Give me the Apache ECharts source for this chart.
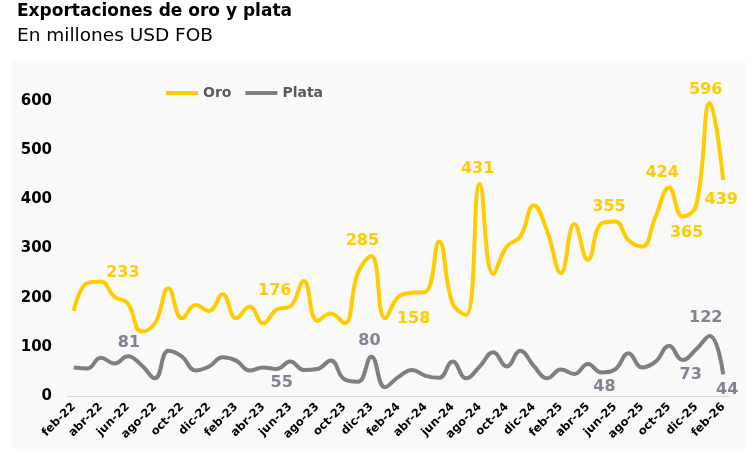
<!DOCTYPE html>
<html>
<head>
<meta charset="utf-8">
<script src="https://cdn.jsdelivr.net/npm/echarts@6/dist/echarts.min.js"></script>
<style>
html,body{margin:0;padding:0;background:#fff;}
#c{width:751px;height:449px;}
</style>
</head>
<body>
<div id="c"></div>
<script>
const categories = ['feb-22','mar-22','abr-22','may-22','jun-22','jul-22','ago-22','sep-22','oct-22','nov-22','dic-22','ene-23',
'feb-23','mar-23','abr-23','may-23','jun-23','jul-23','ago-23','sep-23','oct-23','nov-23','dic-23','ene-24',
'feb-24','mar-24','abr-24','may-24','jun-24','jul-24','ago-24','sep-24','oct-24','nov-24','dic-24','ene-25',
'feb-25','mar-25','abr-25','may-25','jun-25','jul-25','ago-25','sep-25','oct-25','nov-25','dic-25','ene-26','feb-26'];
const oro = [173,230,233,202,188,131,148,219,158,185,173,207,
158,182,148,176,182,234,153,168,148,250,285,158,
202,210,212,314,188,165,431,248,304,324,388,334,
250,350,277,351,355,317,304,365,424,365,388,596,439];
const plata = [58,56,78,66,81,63,36,92,80,52,60,79,
72,52,58,55,70,53,55,72,34,29,80,18,
39,53,41,37,70,36,60,89,60,92,61,36,
54,45,65,48,54,87,58,70,102,73,95,122,44];
const yTicks = [0,100,200,300,400,500,600];

const FONT = 'DejaVu Sans';
// labelled points: index -> [position, offsetX, offsetY]
const oroLabels = {2:['top',22,4],15:['top',-2,-6],22:['top',-9,-2],23:['right',7,1],30:['top',-2,-2],40:['top',-6,-2],44:['top',-7,-2],45:['bottom',4,3],47:['top',-4,0],48:['bottom',-2,7]};
const plataLabels = {4:['top',1,0],15:['bottom',5,1],22:['top',-2,-3],39:['bottom',3,1],45:['bottom',8,2],47:['top',-4,-5],48:['bottom',4,2]};

function build(vals, labels, color){
  return vals.map((v,i)=>{
    const l = labels[i];
    if(!l) return v;
    return {value:v,label:{show:true,position:l[0],distance:5,offset:[l[1],l[2]],color:color,fontSize:16,fontWeight:'bold',fontFamily:FONT}};
  });
}

const chart = echarts.init(document.getElementById('c'),null,{renderer:'canvas'});
chart.setOption({
  animation:false,
  backgroundColor:'#ffffff',
  graphic:[
    {type:'rect',left:12,top:61,shape:{width:733,height:388},style:{fill:'#f9f9f9'},z:-10},
    {type:'text',left:17,top:3,style:{text:'Exportaciones de oro y plata',font:'bold 17px "DejaVu Sans"',fill:'#000'}},
    {type:'text',left:17,top:27,style:{text:'En millones USD FOB',font:'18.5px "DejaVu Sans"',fill:'#000'}}
  ],
  legend:{
    top:81,left:161,itemWidth:32,itemHeight:4,itemGap:14,
    icon:'rect',
    textStyle:{color:'#595959',fontSize:14,fontWeight:'bold',fontFamily:FONT},
    data:['Oro','Plata']
  },
  grid:{left:67,right:21,top:101,bottom:53},
  xAxis:{
    type:'category',data:categories,boundaryGap:true,
    axisLine:{lineStyle:{color:'#d9d9d9',width:1}},
    axisTick:{interval:1,length:5,lineStyle:{color:'#d9d9d9'}},
    axisLabel:{interval:1,rotate:45,color:'#000',fontSize:11.5,fontWeight:'bold',fontFamily:FONT,margin:9}
  },
  yAxis:{
    type:'value',min:0,max:600,interval:100,
    splitLine:{show:false},axisLine:{show:false},axisTick:{show:false},
    axisLabel:{color:'#000',fontSize:15,fontWeight:'bold',fontFamily:FONT,margin:15,
      formatter:v=>yTicks.includes(v)?String(v):''}
  },
  series:[
    {name:'Oro',type:'line',smooth:0.45,symbol:'circle',symbolSize:0,showSymbol:true,data:build(oro,oroLabels,'#FFCC00'),
     lineStyle:{color:'#FFCC00',width:4},itemStyle:{color:'#FFCC00'}},
    {name:'Plata',type:'line',smooth:0.45,symbol:'circle',symbolSize:0,showSymbol:true,data:build(plata,plataLabels,'#7F8490'),
     lineStyle:{color:'#7F7F7F',width:4},itemStyle:{color:'#7F7F7F'}}
  ]
});
</script>
</body>
</html>
